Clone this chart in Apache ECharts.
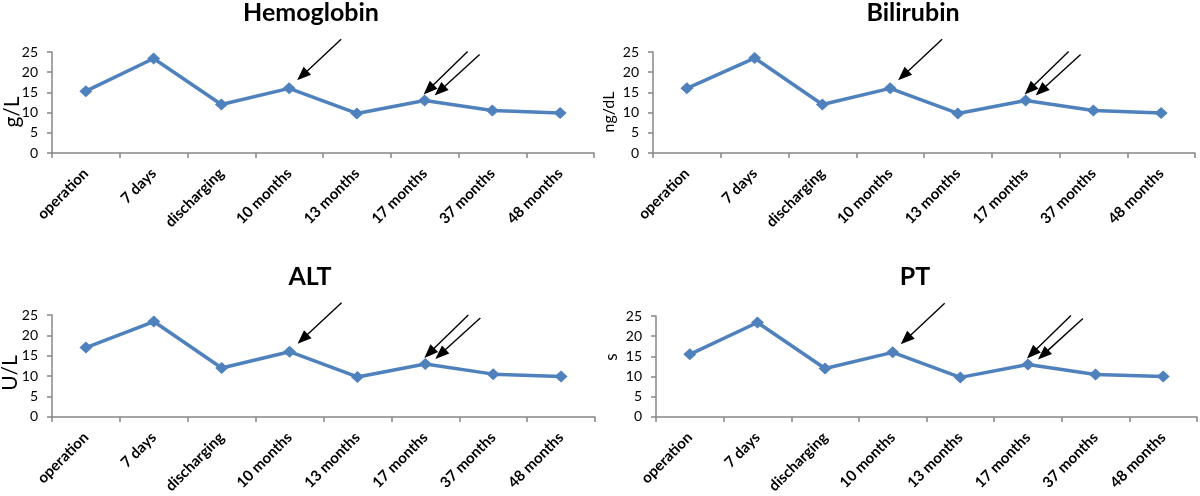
<!DOCTYPE html>
<html>
<head>
<meta charset="utf-8">
<script src="https://cdn.jsdelivr.net/npm/echarts@6/dist/echarts.min.js"></script>
<style>
html,body{margin:0;padding:0;background:#fff;}
#chart{width:1200px;height:496px;}
</style>
</head>
<body>
<div id="chart"></div>
<script>
// ---- data ----
const categories = ['operation', '7 days', 'discharging', '10 months', '13 months', '17 months', '37 months', '48 months'];
const hemoglobin = [15.3, 23.4, 12.0, 16.0, 9.8, 13.0, 10.5, 9.9];
const bilirubin  = [16.0, 23.5, 12.0, 16.0, 9.8, 13.0, 10.5, 9.9];
const alt        = [17.0, 23.4, 12.0, 16.0, 9.8, 13.0, 10.5, 9.9];
const pt         = [15.5, 23.4, 12.0, 16.0, 9.8, 13.0, 10.5, 10.0];
const panelTitles = ['Hemoglobin', 'Bilirubin', 'ALT', 'PT'];
const unitNames   = ['g/L', 'ng/dL', 'U/L', 's'];
const yMin = 0, yMax = 25, yStep = 5;
// categories marked with arrows (one arrow at 10 months, two at 17 months)
const arrowCategories = ['10 months', '17 months', '17 months'];

const seriesValues = [hemoglobin, bilirubin, alt, pt];

// ---- layout / style ----
const grids = [
  {left: 52, top: 52, width: 542, height: 101},
  {left: 653, top: 52, width: 542, height: 101},
  {left: 52, top: 315, width: 543, height: 102},
  {left: 656, top: 316, width: 541, height: 103}
];
const titlePos = [[311, 0], [913, 0], [310, 264], [915, 264]];
// unit label: [distance left of the y axis, distance below grid top, font size]
const unitPos = [[40, 60, 21], [44, 60, 16], [42, 58, 21], [44, 41, 17]];
const FONT = 'Lato, "Open Sans", sans-serif';
const axisColor = '#878787';
const lineColor = '#4F81BD';
// arrow geometry relative to the marked point, in px: [startDx, startDy, tipDx, tipDy]
const arrowOffsets = [[52, -49, 8, -8], [43, -49, -1, -6], [55, -46, 10, -5]];

const chart = echarts.init(document.getElementById('chart'), null, {renderer: 'canvas'});

const option = {
  backgroundColor: '#ffffff',
  animation: false,
  title: panelTitles.map((t, i) => ({
    text: t,
    left: titlePos[i][0],
    top: titlePos[i][1],
    padding: 0,
    textAlign: 'center',
    textStyle: {fontFamily: FONT, fontWeight: 'bold', fontSize: 25, color: '#000'}
  })),
  grid: grids.map(g => Object.assign({containLabel: false}, g)),
  xAxis: grids.map((g, i) => ({
    type: 'category',
    gridIndex: i,
    data: categories,
    boundaryGap: true,
    axisLine: {show: true, lineStyle: {color: axisColor, width: 1.5}},
    axisTick: {show: true, alignWithLabel: false, length: 5, lineStyle: {color: axisColor, width: 1.5}},
    axisLabel: {interval: 0, rotate: 45, margin: 18, fontFamily: FONT, fontWeight: 'bold', fontSize: 15, color: '#000'},
    splitLine: {show: false}
  })),
  yAxis: grids.map((g, i) => ({
    type: 'value',
    gridIndex: i,
    min: yMin, max: yMax, interval: yStep,
    axisLine: {show: true, lineStyle: {color: axisColor, width: 1.5}},
    axisTick: {show: true, length: 5, lineStyle: {color: axisColor, width: 1.5}},
    axisLabel: {margin: 14, fontFamily: FONT, fontSize: 14, color: '#000'},
    splitLine: {show: false}
  })),
  series: seriesValues.map((vals, i) => ({
    type: 'line',
    xAxisIndex: i,
    yAxisIndex: i,
    data: vals,
    symbol: 'diamond',
    symbolSize: [13, 12],
    lineStyle: {color: lineColor, width: 3.5},
    itemStyle: {color: lineColor},
    clip: false
  }))
};
chart.setOption(option);

const graphics = [];
// ---- unit (y axis) labels ----
unitNames.forEach((u, i) => {
  graphics.push({
    type: 'text',
    x: grids[i].left - unitPos[i][0],
    y: grids[i].top + unitPos[i][1],
    rotation: Math.PI / 2,
    style: {text: u, align: 'center', verticalAlign: 'middle', fontFamily: FONT, fontSize: unitPos[i][2], fill: '#000'}
  });
});
// ---- arrows (annotations) positioned from the data points through the axes ----
seriesValues.forEach((vals, s) => {
  arrowCategories.forEach((cat, a) => {
    const idx = categories.indexOf(cat);
    const p = chart.convertToPixel({seriesIndex: s}, [idx, vals[idx]]);
    const o = arrowOffsets[a];
    const sx = p[0] + o[0], sy = p[1] + o[1];
    const tx = p[0] + o[2], ty = p[1] + o[3];
    const dx = tx - sx, dy = ty - sy;
    const len = Math.sqrt(dx * dx + dy * dy);
    const ux = dx / len, uy = dy / len;
    const headLen = 14, headHalf = 5.5;
    const bx = tx - ux * headLen, by = ty - uy * headLen;
    graphics.push({
      type: 'line',
      shape: {x1: sx, y1: sy, x2: bx + ux * 2, y2: by + uy * 2},
      style: {stroke: '#000', lineWidth: 1.4},
      z: 100
    });
    graphics.push({
      type: 'polygon',
      shape: {points: [[tx, ty], [bx - uy * headHalf, by + ux * headHalf], [bx + uy * headHalf, by - ux * headHalf]]},
      style: {fill: '#000'},
      z: 100
    });
  });
});
chart.setOption({graphic: graphics});
</script>
</body>
</html>
